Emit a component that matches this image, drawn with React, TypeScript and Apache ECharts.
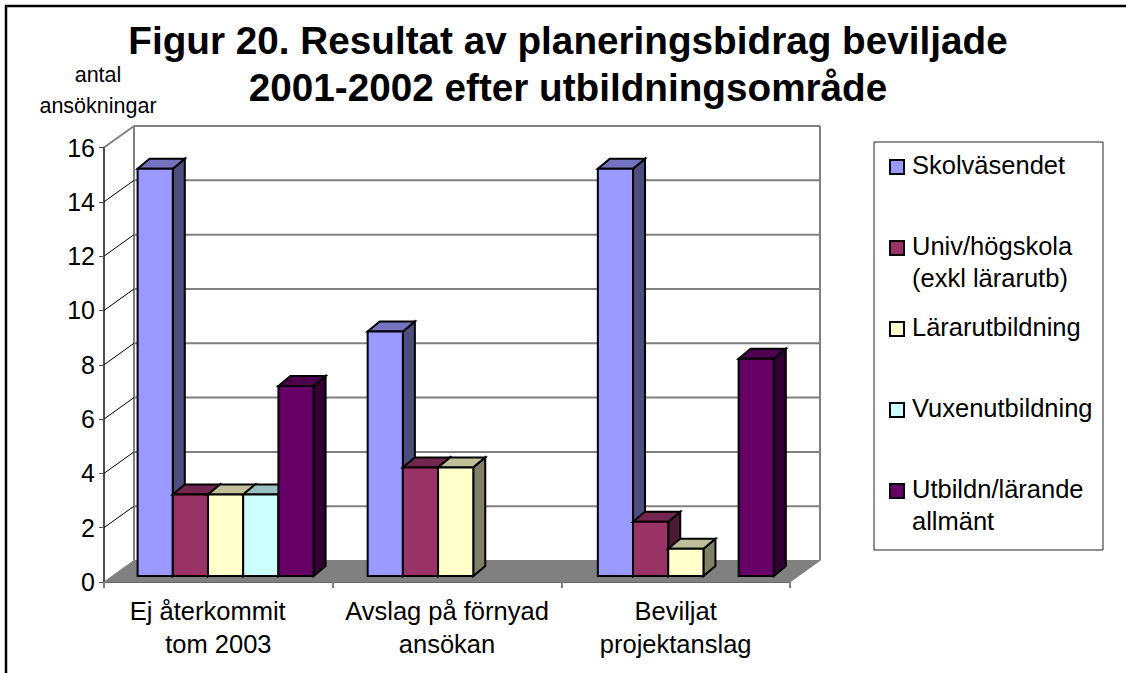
import React, { useEffect, useRef } from "react";
import * as echarts from "echarts";

const TITLE = "Figur 20. Resultat av planeringsbidrag beviljade\n2001-2002 efter utbildningsområde";
const Y_NAME = "antal\nansökningar";
const CATEGORIES = ["Ej återkommit   \ntom 2003", "Avslag på förnyad\nansökan", "Beviljat\nprojektanslag"];
const SERIES_NAMES = ["Skolväsendet", "Univ/högskola (exkl lärarutb)", "Lärarutbildning", "Vuxenutbildning", "Utbildn/lärande allmänt"];
const LEGEND_LABELS = ["Skolväsendet", "Univ/högskola\n(exkl lärarutb)", "Lärarutbildning", "Vuxenutbildning", "Utbildn/lärande\nallmänt"];
const SKOLVASENDET = [15, 9, 15];
const UNIV = [3, 4, 2];
const LARARUTB = [3, 4, 1];
const VUXEN = [3, null, null];
const ALLMANT = [7, null, 8];
const VALUES = [SKOLVASENDET, UNIV, LARARUTB, VUXEN, ALLMANT];
const FRONT = ["#9999FF", "#993366", "#FFFFCC", "#CCFFFF", "#660066"];
const TOP = ["#7373BF", "#732650", "#BFBF99", "#99BFBF", "#4D004D"];
const SIDE = ["#4D4D80", "#4D1A33", "#808066", "#668080", "#330033"];
const Y_TICKS = [0, 2, 4, 6, 8, 10, 12, 14, 16];

const FONT = "'Liberation Sans', Arial, sans-serif";
const WALL_DX = 30;
const WALL_DY = -21.5;
const BAR_DX = 12;
const BAR_DY = -10;
const BAR_PLANE_DY = -6;
const BAR_W = 35.2;
const GROUP_OFFSET = [33.6, 35, 36.5];
const WALL_GREY = "#808080";

function renderWall(params: any, api: any) {
  const v = api.value(0);
  const cs = params.coordSys;
  const y = api.coord([0, v])[1];
  const x0 = cs.x;
  const x1 = cs.x + cs.width;
  const children: any[] = [];
  if (v === 0) {
    children.push({
      type: "polygon",
      shape: { points: [[x0, y], [x1, y], [x1 + WALL_DX, y + WALL_DY], [x0 + WALL_DX, y + WALL_DY]] },
      style: { fill: WALL_GREY, stroke: WALL_GREY, lineWidth: 1 },
    });
    const yTop = cs.y + WALL_DY;
    children.push({
      type: "line",
      shape: { x1: x0 + WALL_DX, y1: y + WALL_DY, x2: x0 + WALL_DX, y2: yTop },
      style: { stroke: WALL_GREY, lineWidth: 2 },
    });
    children.push({
      type: "line",
      shape: { x1: x1 + WALL_DX, y1: y + WALL_DY, x2: x1 + WALL_DX, y2: yTop },
      style: { stroke: WALL_GREY, lineWidth: 2 },
    });
  } else {
    const isTop = v === 16;
    children.push({
      type: "line",
      shape: { x1: x0 + WALL_DX, y1: y + WALL_DY, x2: x1 + WALL_DX, y2: y + WALL_DY },
      style: { stroke: WALL_GREY, lineWidth: 2 },
    });
    children.push({
      type: "line",
      shape: { x1: x0, y1: y, x2: x0 + WALL_DX, y2: y + WALL_DY },
      style: { stroke: isTop ? WALL_GREY : "#000000", lineWidth: isTop ? 2 : 1 },
    });
  }
  return { type: "group", children };
}

function makeBarRenderer(si: number) {
  return (params: any, api: any) => {
    const cat = api.value(0);
    const val = api.value(1);
    const [cx, yv] = api.coord([cat, val]);
    const y0 = api.coord([cat, 0])[1];
    const band = api.size([1, 0])[0];
    const l = cx - band / 2 + GROUP_OFFSET[cat] + si * BAR_W;
    const r = l + BAR_W;
    const t = yv + BAR_PLANE_DY;
    const b = y0 + BAR_PLANE_DY;
    const edge = { stroke: "#000000", lineWidth: 2, lineJoin: "miter" };
    return {
      type: "group",
      children: [
        { type: "polygon", shape: { points: [[r, t], [r + BAR_DX, t + BAR_DY], [r + BAR_DX, b + BAR_DY], [r, b]] }, style: { fill: SIDE[si], ...edge } },
        { type: "polygon", shape: { points: [[l, t], [l + BAR_DX, t + BAR_DY], [r + BAR_DX, t + BAR_DY], [r, t]] }, style: { fill: TOP[si], ...edge } },
        { type: "rect", shape: { x: l, y: t, width: BAR_W, height: b - t }, style: { fill: FRONT[si], ...edge } },
      ],
    };
  };
}

const LEGEND_X = 874;
const LEGEND_Y = 142;
const LEGEND_W = 229;
const LEGEND_H = 408;
const LEGEND_FIRST = 167;
const LEGEND_STEP = 81;

function legendGraphics() {
  const items: any[] = [
    { type: "rect", shape: { x: LEGEND_X, y: LEGEND_Y, width: LEGEND_W, height: LEGEND_H }, style: { fill: "#ffffff", stroke: "#222222", lineWidth: 1 } },
  ];
  LEGEND_LABELS.forEach((label, i) => {
    const cy = LEGEND_FIRST + i * LEGEND_STEP;
    items.push({ type: "rect", shape: { x: 890, y: cy - 7, width: 14, height: 14 }, style: { fill: FRONT[i], stroke: "#000000", lineWidth: 2 } });
    items.push({
      type: "text",
      x: 912,
      y: cy - 18,
      style: { text: label, fill: "#000000", font: `25.5px ${FONT}`, lineHeight: 32, align: "left", verticalAlign: "top" },
    });
  });
  return items;
}

export default function App() {
  const ref = useRef<HTMLDivElement>(null);
  useEffect(() => {
    document.body.style.margin = "0";
    const chart = echarts.init(ref.current!, undefined, { renderer: "svg" });
    chart.setOption({
      animation: false,
      backgroundColor: "#ffffff",
      title: {
        text: TITLE,
        left: 563,
        top: 12,
        textAlign: "center",
        textStyle: { fontFamily: FONT, fontWeight: "bold", fontSize: 38.7, lineHeight: 47, color: "#000000" },
      },
      grid: { left: 104, top: 147.5, width: 686, height: 434.5 },
      xAxis: {
        type: "category",
        data: CATEGORIES,
        axisLine: { show: true, lineStyle: { color: "#505050", width: 2 } },
        axisTick: { show: true, length: 6, lineStyle: { color: WALL_GREY, width: 2 } },
        axisLabel: { interval: 0, fontFamily: FONT, fontSize: 25.5, lineHeight: 33.5, color: "#000000", margin: 12 },
      },
      yAxis: {
        type: "value",
        min: 0,
        max: 16,
        interval: 2,
        name: Y_NAME,
        nameLocation: "end",
        nameGap: 26,
        nameTextStyle: { fontFamily: FONT, fontSize: 21.5, lineHeight: 31, color: "#000000", align: "center", padding: [0, 12, 0, 0] },
        axisLine: { show: true, lineStyle: { color: "#505050", width: 2 } },
        axisTick: { show: true, length: 5, lineStyle: { color: "#505050", width: 1 } },
        axisLabel: { fontFamily: FONT, fontSize: 25, color: "#000000", margin: 9 },
        splitLine: { show: false },
      },
      series: [
        {
          type: "custom",
          name: "wall",
          silent: true,
          renderItem: renderWall,
          encode: { y: 0 },
          data: Y_TICKS.map((v) => [v]),
          z: 1,
        },
        ...SERIES_NAMES.map((name, si) => ({
          type: "custom",
          name,
          renderItem: makeBarRenderer(si),
          encode: { x: 0, y: 1 },
          data: VALUES[si].map((v, c) => (v === null ? null : [c, v])).filter(Boolean),
          z: 3 + si,
        })),
      ],
      graphic: [
        { type: "line", shape: { x1: 5, y1: 6, x2: 1126, y2: 6 }, style: { stroke: "#000000", lineWidth: 2.5 } },
        { type: "line", shape: { x1: 6, y1: 5, x2: 6, y2: 673 }, style: { stroke: "#000000", lineWidth: 2.5 } },
        ...legendGraphics(),
      ],
    });
    return () => chart.dispose();
  }, []);
  return <div ref={ref} style={{ width: 1126, height: 673 }} />;
}
